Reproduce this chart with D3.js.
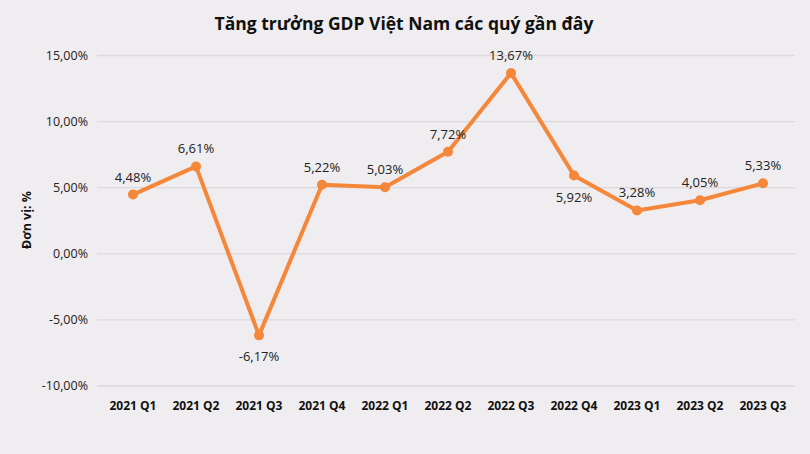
<!DOCTYPE html>
<html>
<head>
<meta charset="utf-8">
<script src="https://cdn.jsdelivr.net/npm/d3@7"></script>
<style>
  body { margin: 0; background: #efedef; }
  svg { display: block; font-family: "Open Sans", "Noto Sans", sans-serif; }
</style>
</head>
<body>
<svg id="chart" width="810" height="454"></svg>
<script>
// quarters and GDP growth (%)
var quarters = ["2021 Q1", "2021 Q2", "2021 Q3", "2021 Q4", "2022 Q1", "2022 Q2",
                "2022 Q3", "2022 Q4", "2023 Q1", "2023 Q2", "2023 Q3"];
var growth = [4.48, 6.61, -6.17, 5.22, 5.03, 7.72, 13.67, 5.92, 3.28, 4.05, 5.33];
// which labels sit under the point
var labelBelow = [false, false, true, false, false, false, false, true, false, false, false];
var yTicks = [-10, -5, 0, 5, 10, 15];

var title = "Tăng trưởng GDP Việt Nam các quý gần đây";
var yTitle = "Đơn vị: %";

var svg = d3.select("#chart");
// vietnamese style: comma decimal, plain hyphen minus
var fmt = function(v) {
  return (v < 0 ? "-" : "") + Math.abs(v).toFixed(2).replace(".", ",") + "%";
};

var x = d3.scalePoint()
  .domain(quarters)
  .range([133, 763]);

var y = d3.scaleLinear()
  .domain([-10, 15])
  .range([386, 55.5]);

svg.append("rect")
  .attr("width", 810).attr("height", 454)
  .attr("fill", "#efedef");

// gridlines
svg.append("g")
  .selectAll("line")
  .data(yTicks)
  .join("line")
  .attr("x1", 97).attr("x2", 795)
  .attr("y1", function(d) { return y(d); })
  .attr("y2", function(d) { return y(d); })
  .attr("stroke", "#dbd9db")
  .attr("stroke-width", 1.3);

// y axis labels
svg.append("g")
  .selectAll("text")
  .data(yTicks)
  .join("text")
  .attr("x", 88)
  .attr("y", function(d) { return y(d); })
  .attr("dy", "0.35em")
  .attr("text-anchor", "end")
  .attr("font-size", 12.5)
  .attr("fill", "#222")
  .text(fmt);

// x axis labels
svg.append("g")
  .selectAll("text")
  .data(quarters)
  .join("text")
  .attr("x", function(d) { return x(d); })
  .attr("y", 410)
  .attr("text-anchor", "middle")
  .attr("font-size", 12)
  .attr("font-weight", "bold")
  .attr("fill", "#111")
  .text(function(d) { return d; });

// title
svg.append("text")
  .attr("x", 404).attr("y", 30)
  .attr("text-anchor", "middle")
  .attr("font-size", 17.5)
  .attr("font-weight", "bold")
  .attr("fill", "#111")
  .text(title);

svg.append("text")
  .attr("transform", "translate(31,220) rotate(-90)")
  .attr("text-anchor", "middle")
  .attr("font-size", 12.5)
  .attr("font-weight", "bold")
  .attr("fill", "#111")
  .text(yTitle);

var line = d3.line()
  .x(function(d, i) { return x(quarters[i]); })
  .y(function(d) { return y(d); });

svg.append("path")
  .datum(growth)
  .attr("d", line)
  .attr("fill", "none")
  .attr("stroke", "#f5873a")
  .attr("stroke-width", 4)
  .attr("stroke-linejoin", "round");

svg.append("g")
  .selectAll("circle")
  .data(growth)
  .join("circle")
  .attr("cx", function(d, i) { return x(quarters[i]); })
  .attr("cy", function(d) { return y(d); })
  .attr("r", 5)
  .attr("fill", "#f5873a");

// data labels
svg.append("g")
  .selectAll("text")
  .data(growth)
  .join("text")
  .attr("x", function(d, i) { return x(quarters[i]); })
  .attr("y", function(d, i) { return labelBelow[i] ? y(d) + 26 : y(d) - 13; })
  .attr("text-anchor", "middle")
  .attr("font-size", 13)
  .attr("fill", "#222")
  .text(fmt);
</script>
</body>
</html>
